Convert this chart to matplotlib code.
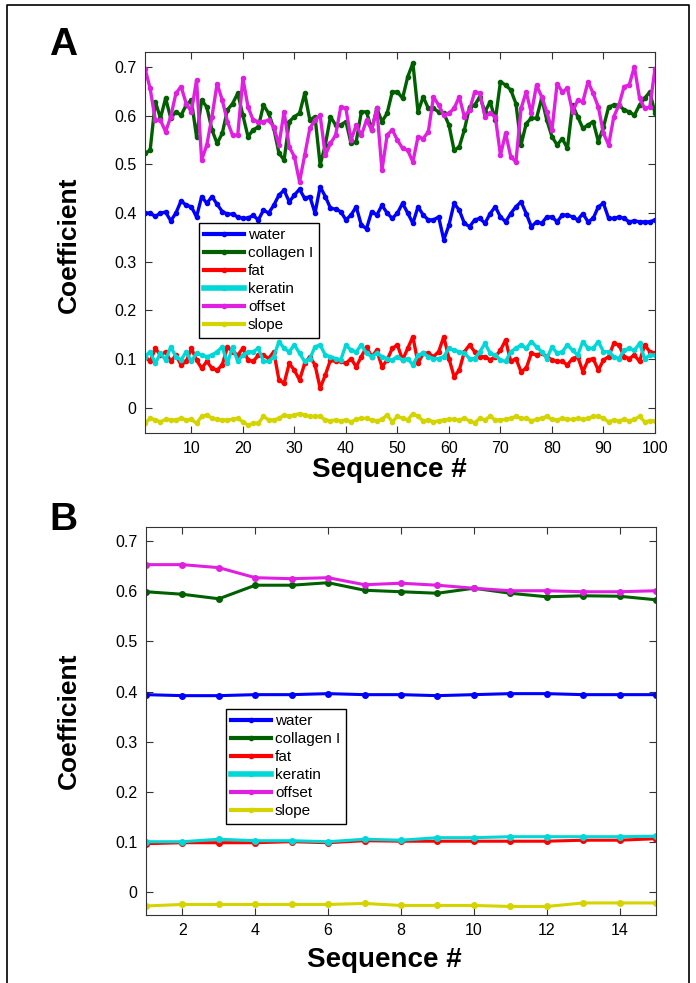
import matplotlib
matplotlib.use('Agg')
import matplotlib.pyplot as plt
from matplotlib.lines import Line2D

plt.rcParams['font.family'] = ['Liberation Sans', 'DejaVu Sans']

names = ['water', 'collagen I', 'fat', 'keratin', 'offset', 'slope']
colors = ['#0000ff', '#006000', '#ff0000', '#00d8d8', '#e020e0', '#d4d400']

# panel A: 100 sequences
seq_a = list(range(1, 101))
water_a = [0.400, 0.400, 0.393, 0.400, 0.402, 0.384, 0.400, 0.425, 0.416, 0.413,
           0.392, 0.434, 0.420, 0.434, 0.418, 0.403, 0.398, 0.398, 0.392, 0.389,
           0.390, 0.395, 0.386, 0.406, 0.400, 0.416, 0.437, 0.447, 0.423, 0.437,
           0.449, 0.430, 0.434, 0.400, 0.454, 0.434, 0.410, 0.408, 0.403, 0.386,
           0.396, 0.413, 0.375, 0.368, 0.403, 0.396, 0.416, 0.400, 0.389, 0.400,
           0.420, 0.400, 0.379, 0.413, 0.396, 0.386, 0.386, 0.392, 0.345, 0.375,
           0.420, 0.406, 0.379, 0.372, 0.386, 0.389, 0.379, 0.399, 0.413, 0.392,
           0.382, 0.399, 0.413, 0.423, 0.399, 0.372, 0.382, 0.379, 0.392, 0.392,
           0.382, 0.396, 0.396, 0.392, 0.386, 0.399, 0.382, 0.389, 0.413, 0.420,
           0.389, 0.389, 0.392, 0.389, 0.382, 0.384, 0.382, 0.382, 0.382, 0.386]
collagen_a = [0.523, 0.529, 0.629, 0.595, 0.636, 0.595, 0.608, 0.601, 0.622, 0.632,
              0.557, 0.632, 0.618, 0.571, 0.543, 0.564, 0.612, 0.625, 0.646, 0.601,
              0.557, 0.571, 0.577, 0.622, 0.605, 0.574, 0.523, 0.509, 0.588, 0.598,
              0.605, 0.646, 0.591, 0.598, 0.499, 0.540, 0.598, 0.581, 0.581, 0.588,
              0.543, 0.547, 0.608, 0.608, 0.571, 0.615, 0.588, 0.605, 0.649, 0.649,
              0.636, 0.680, 0.708, 0.608, 0.639, 0.615, 0.615, 0.608, 0.605, 0.581,
              0.529, 0.536, 0.571, 0.618, 0.622, 0.639, 0.608, 0.629, 0.591, 0.670,
              0.663, 0.653, 0.625, 0.540, 0.584, 0.595, 0.595, 0.636, 0.591, 0.557,
              0.540, 0.553, 0.533, 0.622, 0.598, 0.574, 0.581, 0.588, 0.547, 0.577,
              0.618, 0.622, 0.622, 0.612, 0.608, 0.601, 0.622, 0.636, 0.649, 0.605]
fat_a = [0.105, 0.095, 0.122, 0.108, 0.115, 0.095, 0.108, 0.088, 0.095, 0.122,
         0.098, 0.081, 0.095, 0.081, 0.077, 0.088, 0.125, 0.115, 0.108, 0.122,
         0.098, 0.095, 0.108, 0.108, 0.101, 0.115, 0.057, 0.050, 0.091, 0.077,
         0.057, 0.091, 0.105, 0.088, 0.040, 0.067, 0.098, 0.095, 0.095, 0.091,
         0.101, 0.084, 0.105, 0.125, 0.105, 0.118, 0.084, 0.098, 0.122, 0.129,
         0.098, 0.122, 0.146, 0.091, 0.112, 0.112, 0.105, 0.115, 0.146, 0.101,
         0.064, 0.077, 0.115, 0.129, 0.115, 0.105, 0.105, 0.098, 0.105, 0.118,
         0.139, 0.095, 0.101, 0.074, 0.081, 0.112, 0.108, 0.112, 0.105, 0.098,
         0.095, 0.095, 0.088, 0.101, 0.105, 0.074, 0.098, 0.101, 0.077, 0.098,
         0.105, 0.132, 0.129, 0.105, 0.101, 0.108, 0.095, 0.129, 0.115, 0.112]
keratin_a = [0.105, 0.115, 0.091, 0.112, 0.098, 0.125, 0.105, 0.098, 0.115, 0.095,
             0.112, 0.108, 0.105, 0.108, 0.115, 0.125, 0.091, 0.125, 0.095, 0.108,
             0.115, 0.115, 0.122, 0.095, 0.095, 0.105, 0.136, 0.122, 0.115, 0.129,
             0.112, 0.095, 0.101, 0.125, 0.129, 0.108, 0.105, 0.101, 0.098, 0.129,
             0.118, 0.115, 0.129, 0.112, 0.105, 0.112, 0.105, 0.101, 0.098, 0.105,
             0.098, 0.101, 0.088, 0.108, 0.112, 0.105, 0.101, 0.101, 0.105, 0.122,
             0.118, 0.115, 0.112, 0.101, 0.101, 0.115, 0.132, 0.112, 0.108, 0.098,
             0.095, 0.115, 0.122, 0.129, 0.122, 0.136, 0.125, 0.115, 0.101, 0.125,
             0.112, 0.115, 0.129, 0.118, 0.108, 0.136, 0.122, 0.122, 0.136, 0.115,
             0.115, 0.105, 0.101, 0.118, 0.122, 0.118, 0.132, 0.101, 0.108, 0.108]
offset_a = [0.697, 0.656, 0.591, 0.591, 0.567, 0.598, 0.646, 0.660, 0.625, 0.608,
            0.673, 0.509, 0.540, 0.598, 0.666, 0.632, 0.588, 0.560, 0.560, 0.677,
            0.618, 0.591, 0.588, 0.588, 0.591, 0.577, 0.540, 0.608, 0.536, 0.516,
            0.464, 0.519, 0.574, 0.591, 0.601, 0.519, 0.543, 0.560, 0.618, 0.615,
            0.550, 0.581, 0.560, 0.591, 0.571, 0.615, 0.488, 0.560, 0.571, 0.550,
            0.533, 0.529, 0.505, 0.557, 0.553, 0.567, 0.639, 0.622, 0.601, 0.605,
            0.615, 0.639, 0.598, 0.612, 0.649, 0.646, 0.598, 0.605, 0.598, 0.519,
            0.564, 0.516, 0.505, 0.615, 0.649, 0.605, 0.663, 0.639, 0.608, 0.571,
            0.666, 0.649, 0.656, 0.608, 0.632, 0.629, 0.670, 0.646, 0.618, 0.564,
            0.540, 0.598, 0.622, 0.660, 0.663, 0.701, 0.636, 0.615, 0.618, 0.697]
slope_a = [-0.032, -0.022, -0.025, -0.029, -0.024, -0.025, -0.025, -0.022, -0.025, -0.024,
           -0.032, -0.018, -0.015, -0.022, -0.024, -0.025, -0.025, -0.024, -0.022, -0.029,
           -0.036, -0.032, -0.032, -0.018, -0.025, -0.025, -0.022, -0.015, -0.018, -0.015,
           -0.012, -0.015, -0.018, -0.018, -0.018, -0.025, -0.027, -0.025, -0.027, -0.025,
           -0.029, -0.024, -0.022, -0.022, -0.025, -0.027, -0.024, -0.015, -0.029, -0.018,
           -0.022, -0.025, -0.012, -0.018, -0.027, -0.025, -0.029, -0.027, -0.025, -0.024,
           -0.024, -0.025, -0.022, -0.027, -0.031, -0.022, -0.025, -0.018, -0.025, -0.025,
           -0.024, -0.022, -0.018, -0.022, -0.022, -0.027, -0.024, -0.022, -0.018, -0.024,
           -0.025, -0.022, -0.024, -0.024, -0.022, -0.024, -0.022, -0.018, -0.018, -0.022,
           -0.029, -0.025, -0.027, -0.024, -0.027, -0.024, -0.018, -0.029, -0.027, -0.027]

# panel B: 15 sequences
seq_b = list(range(1, 16))
water_b = [0.394, 0.392, 0.392, 0.394, 0.394, 0.396, 0.394, 0.394,
           0.392, 0.394, 0.396, 0.396, 0.394, 0.394, 0.394]
collagen_b = [0.599, 0.594, 0.585, 0.612, 0.612, 0.617, 0.602, 0.599,
              0.596, 0.606, 0.596, 0.589, 0.591, 0.590, 0.583]
fat_b = [0.097, 0.099, 0.099, 0.099, 0.101, 0.099, 0.103, 0.102,
         0.102, 0.102, 0.102, 0.102, 0.104, 0.104, 0.107]
keratin_b = [0.101, 0.101, 0.106, 0.103, 0.103, 0.101, 0.106, 0.104,
             0.109, 0.109, 0.111, 0.111, 0.111, 0.111, 0.112]
offset_b = [0.653, 0.653, 0.647, 0.627, 0.625, 0.627, 0.613, 0.616,
            0.612, 0.606, 0.601, 0.601, 0.599, 0.599, 0.601]
slope_b = [-0.027, -0.024, -0.024, -0.024, -0.024, -0.024, -0.022, -0.026,
           -0.026, -0.026, -0.028, -0.028, -0.021, -0.021, -0.021]

series_a = [water_a, collagen_a, fat_a, keratin_a, offset_a, slope_a]
series_b = [water_b, collagen_b, fat_b, keratin_b, offset_b, slope_b]

fig = plt.figure(figsize=(6.96, 9.83), dpi=100)
ax_a = fig.add_axes([145/696, 1-433/983, 510/696, 381/983])
ax_b = fig.add_axes([146/696, 1-915/983, 510/696, 388/983])


def draw(ax, x, series, lw, ms):
    for vals, name, c in zip(series, names, colors):
        ax.plot(x, vals, '.-', color=c, lw=lw, ms=ms, label=name)
    ax.tick_params(direction='in', top=True, right=True, length=5,
                   width=0.8, labelsize=11.5, pad=6, color='#333333')
    for s in ax.spines.values():
        s.set_linewidth(0.8)
        s.set_color('#333333')
    ax.set_yticks([0, 0.1, 0.2, 0.3, 0.4, 0.5, 0.6, 0.7])
    ax.set_yticklabels(['0', '0.1', '0.2', '0.3', '0.4', '0.5', '0.6', '0.7'])


draw(ax_a, seq_a, series_a, 2.4, 6)
ax_a.set_xlim(1, 100)
ax_a.set_ylim(-0.052, 0.731)
ax_a.set_xticks(range(10, 101, 10))

draw(ax_b, seq_b, series_b, 2.2, 8)
ax_b.set_xlim(1, 15)
ax_b.set_ylim(-0.045, 0.728)
ax_b.set_xticks(range(2, 15, 2))

for ax, anchor in [(ax_a, (0.106, 0.551)), (ax_b, (0.157, 0.531))]:
    handles = [Line2D([], [], color=c, lw=4 if n == 'keratin' else 3,
                      marker='.', ms=6) for n, c in zip(names, colors)]
    leg = ax.legend(handles, names, loc='upper left', bbox_to_anchor=anchor,
                    borderaxespad=0, fontsize=11, frameon=True, fancybox=False,
                    edgecolor='black', handlelength=2.6, handletextpad=0.25,
                    labelspacing=0.26, borderpad=0.35, framealpha=1)
    leg.get_frame().set_linewidth(1.0)

bold = dict(fontweight='bold', ha='center', va='center')
fig.text(69/696, 1-245/983, 'Coefficient', rotation=90, fontsize=19, **bold)
fig.text(69/696, 1-721/983, 'Coefficient', rotation=90, fontsize=19, **bold)
fig.text(389/696, 1-470/983, 'Sequence #', fontsize=20, **bold)
fig.text(384/696, 1-960/983, 'Sequence #', fontsize=20, **bold)
fig.text(63/696, 1-45/983, 'A', fontsize=28, **bold)
fig.text(63/696, 1-520/983, 'B', fontsize=28, **bold)

# frame round the whole figure
fig.add_artist(Line2D([7/696, 7/696, 689/696, 689/696], [0, 1-5/983, 1-5/983, 0],
                      transform=fig.transFigure, color='black', lw=1.2))

fig.savefig('out.png', dpi=100)
